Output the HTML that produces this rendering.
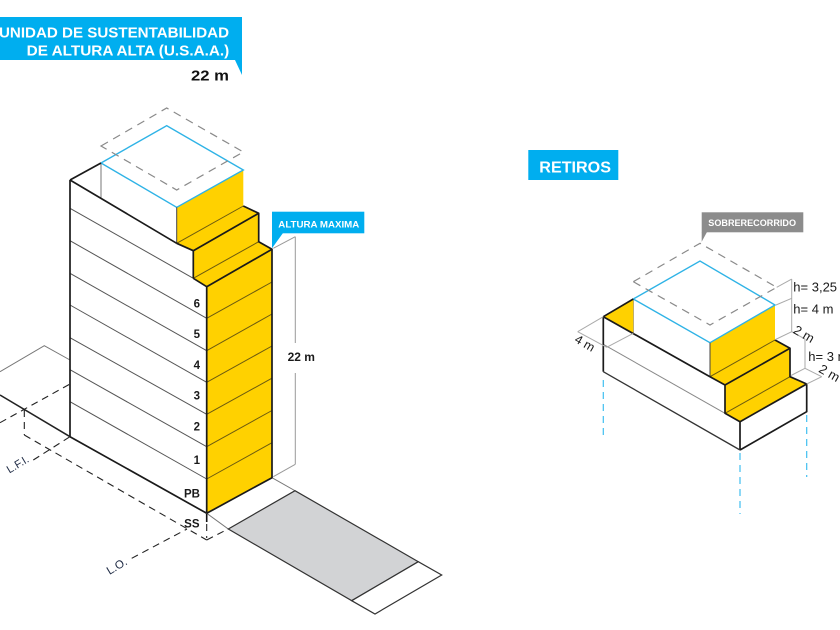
<!DOCTYPE html>
<html>
<head>
<meta charset="utf-8">
<style>
html,body{margin:0;padding:0;background:#fff;}
svg{display:block;font-family:"Liberation Sans",Arial,sans-serif;}
</style>
</head>
<body>
<svg width="840" height="630" viewBox="0 0 840 630" xmlns="http://www.w3.org/2000/svg">
<rect x="0" y="0" width="840" height="630" fill="#fff"/>

<!-- Title banner -->
<rect x="0" y="17" width="242" height="43" fill="#00aeef"/>
<polygon points="234.5,59 242,59 242,75" fill="#00aeef"/>
<text x="-1" y="37.5" font-size="15" font-weight="bold" fill="#fff" textLength="230" lengthAdjust="spacingAndGlyphs">UNIDAD DE SUSTENTABILIDAD</text>
<text x="26.7" y="55.5" font-size="15" font-weight="bold" fill="#fff" textLength="202.6" lengthAdjust="spacingAndGlyphs">DE ALTURA ALTA (U.S.A.A.)</text>
<text x="191" y="80.5" font-size="15" font-weight="bold" fill="#111" textLength="38" lengthAdjust="spacingAndGlyphs">22 m</text>

<!-- Ground lines left -->
<polyline points="0,371.7 44.3,345.7 70,360" fill="none" stroke="#777" stroke-width="1"/>
<line x1="0" y1="395" x2="70" y2="436.7" stroke="#222" stroke-width="1.6"/>

<!-- Dashed lines -->
<g stroke="#222" stroke-width="1.1" stroke-dasharray="7,5" fill="none">
  <line x1="0" y1="422.7" x2="70" y2="384"/>
  <line x1="24.3" y1="410" x2="24.3" y2="435"/>
  <line x1="24.3" y1="435" x2="206.7" y2="540"/>
  <line x1="33.3" y1="460" x2="70" y2="436.7"/>
  <line x1="131.7" y1="558.3" x2="187" y2="529"/>
  <line x1="206.7" y1="540" x2="231" y2="527.5"/>
  <line x1="206.7" y1="524" x2="206.7" y2="538"/>
</g>
<line x1="206.7" y1="513" x2="206.7" y2="522" stroke="#111" stroke-width="1.6"/>

<!-- Sidewalk and street -->
<polygon points="206.7,513.3 272,477.7 295,490.7 228.3,529" fill="#fff" stroke="#777" stroke-width="1"/>
<polygon points="228.3,529 295,490.7 418.3,561.7 351.7,600.7" fill="#d2d3d5" stroke="#333" stroke-width="1.2"/>
<polygon points="351.7,600.7 418.3,561.7 441.7,575 375,614" fill="#fff" stroke="#333" stroke-width="1.2"/>

<!-- Building left face -->
<polygon points="70,180 101,163 176.7,207.3 176.7,243.3 193.3,250.7 193.3,278.3 206.7,286.7 206.7,513.3 70,436.7" fill="#fff"/>
<g stroke="#555" stroke-width="1">
  <line x1="70" y1="208.3" x2="193.3" y2="278.3"/>
  <line x1="70" y1="240.7" x2="206.7" y2="318.3"/>
  <line x1="70" y1="273.3" x2="206.7" y2="350.7"/>
  <line x1="70" y1="305" x2="206.7" y2="382.3"/>
  <line x1="70" y1="337.7" x2="206.7" y2="414.3"/>
  <line x1="70" y1="369.7" x2="206.7" y2="446.7"/>
  <line x1="70" y1="401.7" x2="206.7" y2="479"/>
</g>
<line x1="101" y1="163" x2="101" y2="199" stroke="#777" stroke-width="1"/>

<!-- Yellow facade -->
<polygon points="176.7,207.3 243.3,170 243.3,206 258.7,213.3 258.7,241.7 272,249.3 272,477.7 206.7,513.3 206.7,286.7 193.3,278.3 193.3,250.7 176.7,243.3" fill="#ffd100"/>
<g stroke="#6b5a10" stroke-width="1">
  <line x1="206.7" y1="318.3" x2="272" y2="282"/>
  <line x1="206.7" y1="350.7" x2="272" y2="314"/>
  <line x1="206.7" y1="382.3" x2="272" y2="346"/>
  <line x1="206.7" y1="414.3" x2="272" y2="378.2"/>
  <line x1="206.7" y1="446.7" x2="272" y2="410.5"/>
  <line x1="206.7" y1="479" x2="272" y2="442.7"/>
  <line x1="176.7" y1="243.3" x2="243.3" y2="206"/>
  <line x1="193.3" y1="278.3" x2="258.7" y2="241.7"/>
</g>

<!-- Top blue square and dashed -->
<polygon points="101,163 166.7,125.7 243.3,170 176.7,207.3" fill="#fff" stroke="#2fb3e6" stroke-width="1.4"/>
<polygon points="101,146 166.7,108 243.3,152 176.7,190" fill="none" stroke="#8a8a8a" stroke-width="1.2" stroke-dasharray="8,6"/>
<line x1="176.7" y1="207.3" x2="176.7" y2="243.3" stroke="#444" stroke-width="1"/>

<!-- Building outlines -->
<g stroke="#1a1a1a" stroke-width="1.7" fill="none" stroke-linejoin="round">
  <line x1="70" y1="180" x2="101" y2="163"/>
  <line x1="70" y1="180" x2="176.7" y2="243.3"/>
  <line x1="176.7" y1="243.3" x2="193.3" y2="250.7"/>
  <line x1="70" y1="180" x2="70" y2="436.7"/>
  <line x1="70" y1="436.7" x2="206.7" y2="513.3"/>
  <polyline points="243.3,206 258.7,213.3 258.7,241.7 272,249.3 272,477.7 206.7,513.3"/>
  <line x1="193.3" y1="250.7" x2="258.7" y2="213.3"/>
  <line x1="193.3" y1="250.7" x2="193.3" y2="278.3"/>
  <polyline points="193.3,278.3 206.7,286.7 206.7,513.3"/>
  <line x1="206.7" y1="286.7" x2="272" y2="249.3"/>
</g>

<!-- Floor labels -->
<g font-size="11.5" font-weight="bold" fill="#1a1a1a" text-anchor="end">
  <text x="200" y="307.5">6</text>
  <text x="200" y="338">5</text>
  <text x="200" y="369">4</text>
  <text x="200" y="399.5">3</text>
  <text x="200" y="430.7">2</text>
  <text x="200" y="464">1</text>
  <text x="200" y="497.3">PB</text>
  <text x="199.5" y="527.3">SS</text>
</g>

<!-- L.F.I. / L.O. labels -->
<text x="17.5" y="468" font-size="11" fill="#1e2a44" text-anchor="middle" transform="rotate(-31 17.5 464)">L.F.I.</text>
<text x="116.7" y="570" font-size="11.5" fill="#1e2a44" text-anchor="middle" transform="rotate(-31 116.7 566)">L.O.</text>

<!-- 22 m dimension -->
<g stroke="#999" stroke-width="1" fill="none">
  <line x1="273.3" y1="248.3" x2="295.3" y2="236.7"/>
  <line x1="295.3" y1="236.7" x2="295.3" y2="343"/>
  <line x1="295.3" y1="373" x2="295.3" y2="464.3"/>
  <line x1="273.3" y1="476.7" x2="295.3" y2="464.3"/>
</g>
<text x="301.3" y="361" font-size="12" font-weight="bold" fill="#1a1a1a" text-anchor="middle">22 m</text>

<!-- ALTURA MAXIMA label -->
<rect x="272" y="211.7" width="92.3" height="21.6" fill="#00aeef"/>
<polygon points="272,233 283,233 272,248.3" fill="#00aeef"/>
<text x="278.3" y="227.3" font-size="9.6" font-weight="bold" fill="#fff" textLength="81" lengthAdjust="spacingAndGlyphs">ALTURA MAXIMA</text>

<!-- RETIROS label -->
<rect x="528.3" y="150" width="90" height="30" fill="#00aeef"/>
<text x="539.3" y="172.3" font-size="16" font-weight="bold" fill="#fff" textLength="71.7" lengthAdjust="spacingAndGlyphs">RETIROS</text>

<!-- SOBRERECORRIDO label -->
<rect x="701.7" y="212.3" width="101.6" height="20" fill="#8c8c8c"/>
<polygon points="701.7,232 707,232 701.7,241.7" fill="#8c8c8c"/>
<text x="708.3" y="226" font-size="9.5" font-weight="bold" fill="#fff" textLength="87.7" lengthAdjust="spacingAndGlyphs">SOBRERECORRIDO</text>

<!-- Right diagram -->
<polygon points="603.3,316.7 633.3,299 710,342.7 710,376.7 725,385 725,413.3 740,421.7 740,450 603.3,371.7" fill="#fff"/>
<line x1="603.3" y1="344.3" x2="725" y2="413.3" stroke="#888" stroke-width="1"/>
<line x1="633.3" y1="299" x2="633.3" y2="333.6" stroke="#777" stroke-width="1"/>
<polygon points="603.3,316.7 633.3,299 633.3,333.6" fill="#ffd100"/>
<polygon points="710,342.7 775,305 775,340 790,348.3 790,376.7 806.7,384 740,421.7 725,413.3 725,385 710,376.7" fill="#ffd100"/>
<polygon points="740,421.7 806.7,384 806.7,411.7 740,450" fill="#fff"/>
<g stroke="#6b5a10" stroke-width="1">
  <line x1="710" y1="376.7" x2="775" y2="340"/>
  <line x1="725" y1="413.3" x2="790" y2="376.7"/>
</g>
<polygon points="633.3,299 700,261 775,305 710,342.7" fill="#fff" stroke="#2fb3e6" stroke-width="1.4"/>
<polygon points="633.3,281.7 700,243.3 776.7,287.3 710,325" fill="none" stroke="#8a8a8a" stroke-width="1.2" stroke-dasharray="8,6"/>
<line x1="710" y1="342.7" x2="710" y2="376.7" stroke="#444" stroke-width="1"/>
<g stroke="#1a1a1a" stroke-width="1.7" fill="none" stroke-linejoin="round">
  <line x1="603.3" y1="316.7" x2="633.3" y2="299"/>
  <polyline points="603.3,316.7 710,376.7 725,385 725,413.3 740,421.7 740,450"/>
  <line x1="603.3" y1="316.7" x2="603.3" y2="371.7"/>
  <line x1="725" y1="385" x2="790" y2="348.3"/>
  <polyline points="775,340 790,348.3 790,376.7 806.7,384 806.7,411.7 740,450"/>
  <line x1="740" y1="421.7" x2="806.7" y2="384"/>
</g>
<line x1="603.3" y1="371.7" x2="740" y2="450" stroke="#333" stroke-width="1.3"/>

<!-- 4 m dim -->
<g stroke="#aaa" stroke-width="1" fill="none">
  <line x1="577.7" y1="331.7" x2="603.3" y2="316.7"/>
  <line x1="577.7" y1="331.7" x2="606.7" y2="347.3"/>
  <line x1="606.7" y1="347.3" x2="633.3" y2="333.3"/>
</g>
<text x="585" y="347.5" font-size="12.5" fill="#1a1a1a" text-anchor="middle" transform="rotate(30 585 343)">4 m</text>

<!-- right dims -->
<g stroke="#aaa" stroke-width="1" fill="none">
  <line x1="776.7" y1="287.3" x2="791.7" y2="279"/>
  <line x1="776" y1="305" x2="791.7" y2="298.3"/>
  <line x1="791.7" y1="279" x2="791.7" y2="331.7"/>
  <line x1="775.5" y1="339.5" x2="791.7" y2="331.7"/>
  <line x1="791.7" y1="331.7" x2="805" y2="339"/>
  <line x1="805" y1="339" x2="805" y2="368.3"/>
  <line x1="791" y1="375.5" x2="805" y2="368.3"/>
  <line x1="805" y1="368.3" x2="821.7" y2="376.7"/>
  <line x1="806.7" y1="384" x2="821.7" y2="376.7"/>
</g>
<g font-size="13" fill="#1a1a1a">
  <text x="793.3" y="291.5">h= 3,25 m</text>
  <text x="793.3" y="313.5">h= 4 m</text>
  <text x="808.3" y="361">h= 3 m</text>
  <text x="804" y="338.5" text-anchor="middle" transform="rotate(30 804 334)">2 m</text>
  <text x="829.5" y="377.5" text-anchor="middle" transform="rotate(30 829.5 373)">2 m</text>
</g>

<!-- blue dashed verticals -->
<g stroke="#40bff0" stroke-width="1.2" stroke-dasharray="7,5" fill="none">
  <line x1="603.3" y1="380" x2="603.3" y2="436"/>
  <line x1="740" y1="453" x2="740" y2="514"/>
  <line x1="806.7" y1="415" x2="806.7" y2="477"/>
</g>
</svg>
</body>
</html>
